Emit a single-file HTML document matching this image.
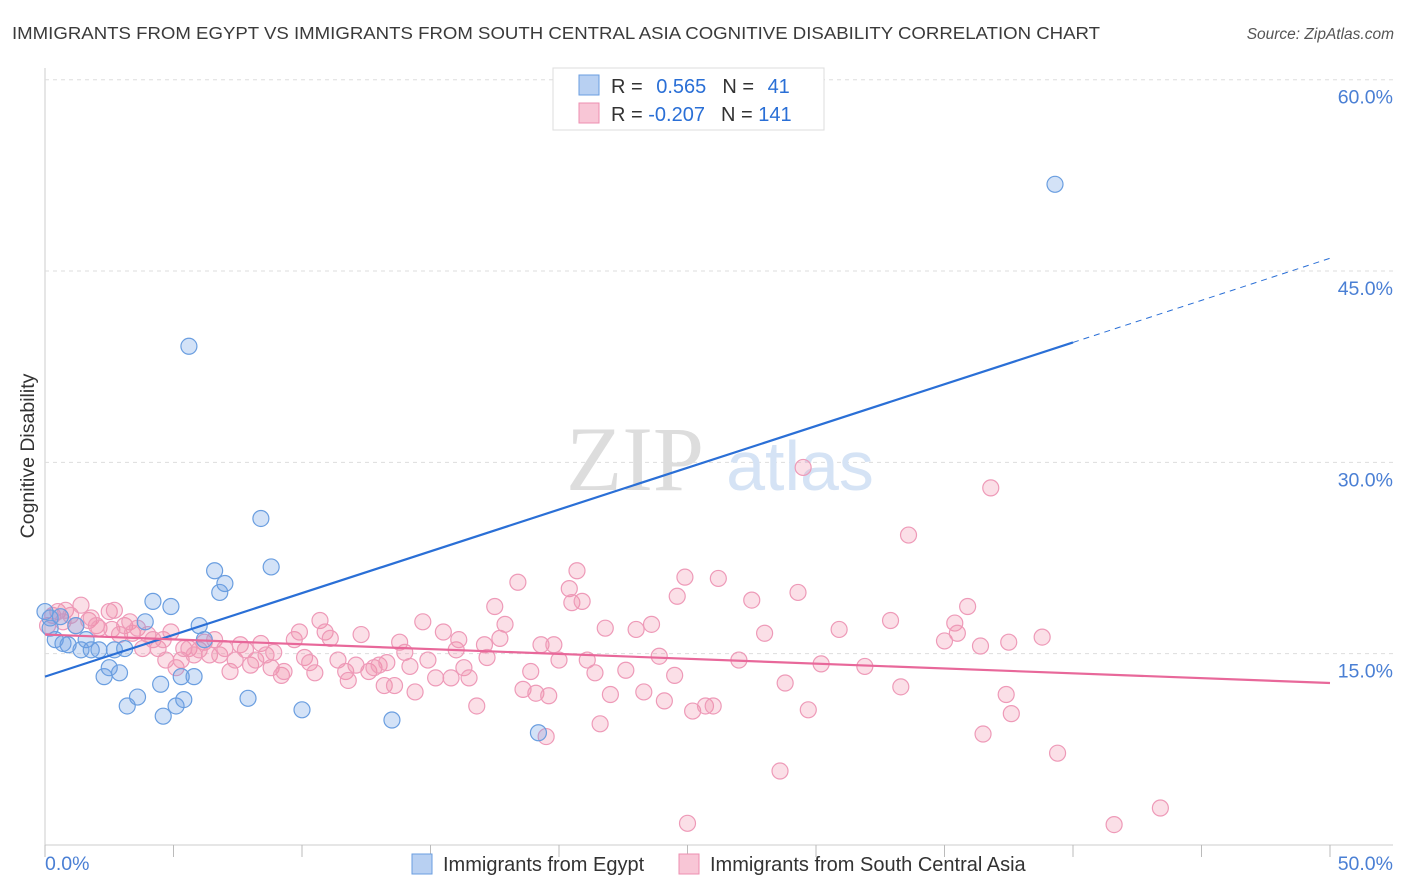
<!DOCTYPE html>
<html><head><meta charset="utf-8">
<style>
body{margin:0;background:#fff;font-family:"Liberation Sans",sans-serif;}
svg{display:block}
</style></head>
<body>
<svg id="chart" width="1406" height="892" xmlns="http://www.w3.org/2000/svg">
<text x="12" y="39" font-size="17.5" fill="#3a3a3a" textLength="1088" lengthAdjust="spacingAndGlyphs">IMMIGRANTS FROM EGYPT VS IMMIGRANTS FROM SOUTH CENTRAL ASIA COGNITIVE DISABILITY CORRELATION CHART</text>
<text x="1394" y="39" font-size="15.5" font-style="italic" fill="#555" text-anchor="end">Source: ZipAtlas.com</text>
<text transform="translate(34,456) rotate(-90)" font-size="19.5" fill="#333" text-anchor="middle">Cognitive Disability</text>
<g id="grid"></g>
<g>
<text x="635" y="490" font-size="92" font-family="Liberation Serif,serif" fill="#ddd" text-anchor="middle">ZIP</text>
<text x="800" y="490" font-size="70" fill="#d5e3f5" text-anchor="middle">atlas</text>
</g>
<g id="pink"></g>
<g id="blue"></g>
<g id="lines"></g>
<g>
<rect x="553" y="68" width="271" height="62" fill="#fff" stroke="#ddd"/>
<rect x="579" y="75" width="20" height="20" fill="#b8d0f2" stroke="#6a9ee0"/>
<rect x="579" y="103" width="20" height="20" fill="#f8c6d6" stroke="#ee8fb0"/>
<text x="611" y="93" font-size="20" fill="#333">R = <tspan fill="#2a6fd6" dx="8">0.565</tspan><tspan dx="16" fill="#333">N = </tspan><tspan fill="#2a6fd6" dx="8">41</tspan></text>
<text x="611" y="121" font-size="20" fill="#333">R = <tspan fill="#2a6fd6">-0.207</tspan><tspan dx="16" fill="#333">N = </tspan><tspan fill="#2a6fd6">141</tspan></text>
</g>
<g>
<rect x="412" y="854" width="20" height="20" fill="#b8d0f2" stroke="#6a9ee0"/>
<text x="443" y="871" font-size="20" fill="#333">Immigrants from Egypt</text>
<rect x="679" y="854" width="20" height="20" fill="#f8c6d6" stroke="#ee8fb0"/>
<text x="710" y="871" font-size="20" fill="#333">Immigrants from South Central Asia</text>
</g>
</svg>
<script>
const xTicks=[0,5,10,15,20,25,30,35,40,45,50];
const yTicks=[15,30,45,60];
const yTickLabels=["15.0%","30.0%","45.0%","60.0%"];
const xLabels=["0.0%","50.0%"];
const blueX=[0.0,0.2,0.4,0.7,0.9,1.2,1.4,1.6,1.8,2.1,2.3,2.5,2.7,2.9,3.1,3.2,3.6,3.9,4.2,4.5,4.6,4.9,5.1,5.3,5.4,5.6,5.8,6.0,6.2,6.6,6.8,7.0,7.9,8.4,8.8,10.0,13.5,19.2,39.3,0.6,0.2];
const blueY=[18.3,17.0,16.1,15.8,15.7,17.2,15.3,16.1,15.3,15.3,13.2,13.9,15.3,13.5,15.4,10.9,11.6,17.5,19.1,12.6,10.1,18.7,10.9,13.2,11.4,39.1,13.2,17.2,16.1,21.5,19.8,20.5,11.5,25.6,21.8,10.6,9.8,8.8,51.8,17.9,17.8];
const pinkX=[0.1,0.3,0.5,0.7,0.8,1.0,1.2,1.4,1.7,1.8,2.0,2.1,2.5,2.6,2.7,2.9,3.1,3.3,3.4,3.6,3.8,4.0,4.2,4.4,4.6,4.7,4.9,5.1,5.3,5.4,5.6,5.8,6.0,6.2,6.4,6.6,6.8,7.0,7.2,7.4,7.6,7.8,8.0,8.2,8.4,8.6,8.8,8.9,9.2,9.3,9.7,9.9,10.1,10.3,10.5,10.7,10.9,11.1,11.4,11.7,11.8,12.1,12.3,12.6,12.8,13.0,13.2,13.3,13.6,13.8,14.0,14.2,14.4,14.7,14.9,15.2,15.5,15.8,16.0,16.1,16.3,16.5,16.8,17.1,17.2,17.5,17.7,17.9,18.4,18.6,18.9,19.1,19.3,19.5,19.6,19.8,20.0,20.4,20.5,20.7,20.9,21.1,21.4,21.6,21.8,22.0,22.6,23.0,23.3,23.6,23.9,24.1,24.5,24.6,24.9,25.0,25.2,25.7,26.0,26.2,27.0,27.5,28.0,28.8,29.3,29.5,29.7,30.2,30.9,31.9,32.9,33.3,33.6,35.0,35.4,35.5,35.9,36.4,36.5,36.8,37.4,37.5,37.6,38.8,39.4,41.6,43.4,28.6];
const pinkY=[17.2,18.0,18.3,17.5,18.4,18.0,17.2,18.8,17.6,17.8,17.2,17.0,18.3,16.9,18.4,16.5,17.2,17.5,16.6,17.0,15.4,16.5,16.1,15.4,16.1,14.5,16.7,13.9,14.5,15.4,15.4,14.9,15.3,15.9,14.9,16.1,14.9,15.4,13.6,14.5,15.7,15.3,14.1,14.5,15.8,14.9,13.9,15.1,13.3,13.6,16.1,16.7,14.7,14.3,13.5,17.6,16.7,16.2,14.5,13.6,12.9,14.1,16.5,13.6,13.9,14.1,12.5,14.3,12.5,15.9,15.1,14.0,12.0,17.5,14.5,13.1,16.7,13.1,15.3,16.1,13.9,13.1,10.9,15.7,14.7,18.7,16.2,17.3,20.6,12.2,13.6,11.9,15.7,8.5,11.7,15.7,14.5,20.1,19.0,21.5,19.1,14.5,13.5,9.5,17.0,11.8,13.7,16.9,12.0,17.3,14.8,11.3,13.3,19.5,21.0,1.7,10.5,10.9,10.9,20.9,14.5,19.2,16.6,12.7,19.8,29.6,10.6,14.2,16.9,14.0,17.6,12.4,24.3,16.0,17.4,16.6,18.7,15.6,8.7,28.0,11.8,15.9,10.3,16.3,7.2,1.6,2.9,5.8];
const blueLine=[[0,13.2],[40,39.4]];
const blueDash=[[40,39.4],[50,46.0]];
const pinkLine=[[0,16.5],[50,12.7]];

const NS="http://www.w3.org/2000/svg";
const X0=45,X1=1330,Y0=845,YSCALE=765.3/60;
const sx=v=>X0+(v/50)*(X1-X0);
const sy=v=>Y0-v*YSCALE;
function mk(tag,attrs,parent){const e=document.createElementNS(NS,tag);for(const k in attrs)e.setAttribute(k,attrs[k]);parent.appendChild(e);return e;}
const grid=document.getElementById('grid');
mk('line',{x1:X0,y1:68,x2:X0,y2:Y0,stroke:'#ccc'},grid);
mk('line',{x1:X0,y1:Y0,x2:1393,y2:Y0,stroke:'#ccc'},grid);
yTicks.forEach((t,i)=>{
 const l=mk('line',{x1:X0,y1:sy(t),x2:1393,y2:sy(t),stroke:'#ddd','stroke-dasharray':'4,4'},grid);
 
 
 const tx=mk('text',{x:1393,y:sy(t)+24,'font-size':19.5,fill:'#4a7fd4','text-anchor':'end'},grid);
 tx.textContent=yTickLabels[i];
 
 
});
xTicks.forEach(t=>{
 const l=mk('line',{x1:sx(t),y1:Y0,x2:sx(t),y2:Y0+12,stroke:'#bbb'},grid);
 
 
});
[[0,'start',45],[50,'end',1393]].forEach((d,i)=>{
 const tx=mk('text',{x:d[2],y:870,'font-size':19.5,fill:'#4a7fd4','text-anchor':d[1]},grid);
 tx.textContent=xLabels[i];
 
 
});
const pg=document.getElementById('pink');
pinkX.forEach((x,i)=>{
 const c=mk('circle',{cx:sx(x),cy:sy(pinkY[i]),r:8,fill:'rgba(240,140,170,0.28)',stroke:'#ee9ab8','stroke-width':1.2},pg);
 
 
});
const bg=document.getElementById('blue');
blueX.forEach((x,i)=>{
 const c=mk('circle',{cx:sx(x),cy:sy(blueY[i]),r:8,fill:'rgba(110,160,230,0.3)',stroke:'#6a9ee0','stroke-width':1.2},bg);
 
 
});
const lg=document.getElementById('lines');
const b=mk('line',{x1:sx(blueLine[0][0]),y1:sy(blueLine[0][1]),x2:sx(blueLine[1][0]),y2:sy(blueLine[1][1]),stroke:'#2a6fd6','stroke-width':2.2},lg);


const bd=mk('line',{x1:sx(blueDash[0][0]),y1:sy(blueDash[0][1]),x2:sx(blueDash[1][0]),y2:sy(blueDash[1][1]),stroke:'#2a6fd6','stroke-width':1,'stroke-dasharray':'6,5'},lg);


const p=mk('line',{x1:sx(pinkLine[0][0]),y1:sy(pinkLine[0][1]),x2:sx(pinkLine[1][0]),y2:sy(pinkLine[1][1]),stroke:'#e8689a','stroke-width':2.2},lg);


</script>
</body></html>
